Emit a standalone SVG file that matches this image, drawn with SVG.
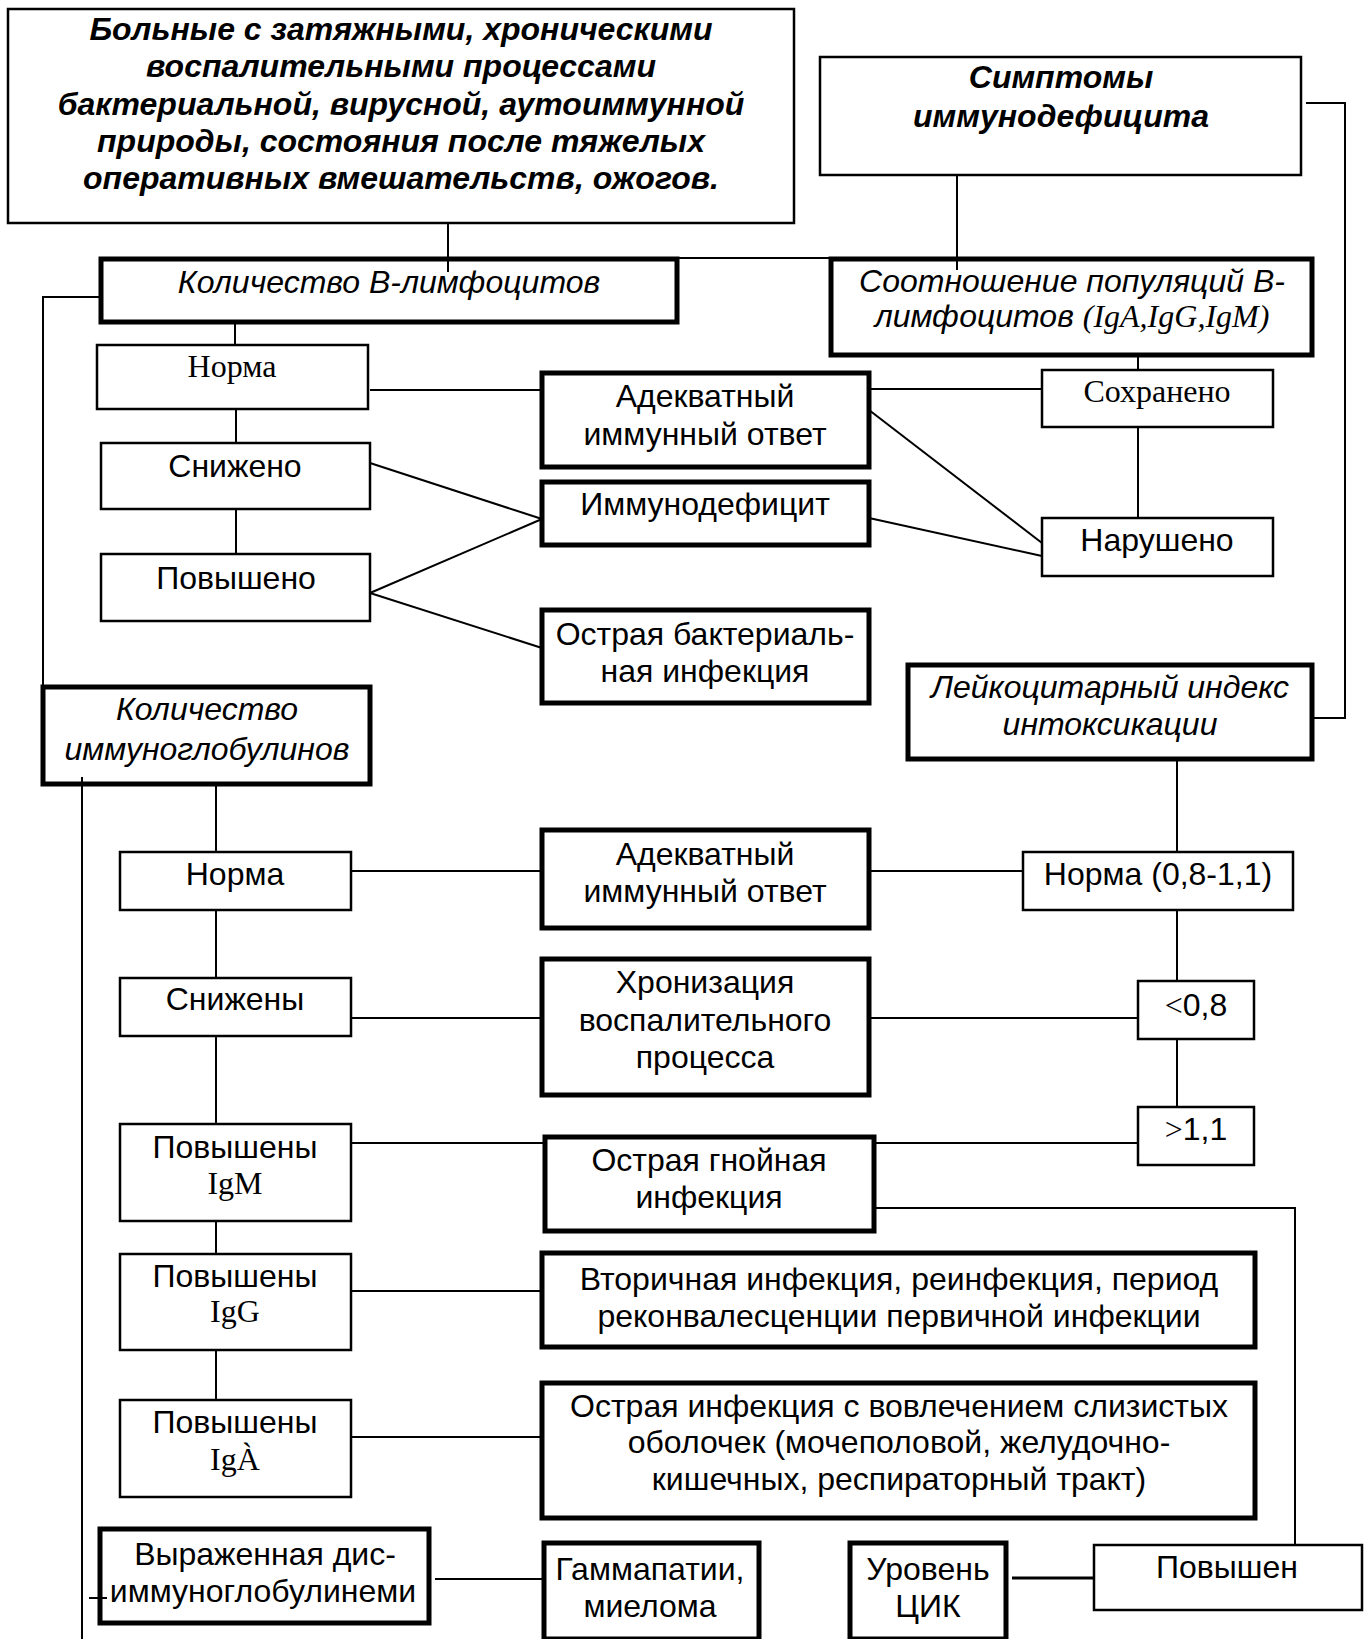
<svg xmlns="http://www.w3.org/2000/svg" width="1372" height="1639" viewBox="0 0 1372 1639">
<style>
rect{fill:#fff;stroke:#000}
.t{stroke-width:2.5}
.k{stroke-width:5}
#connectors line,#connectors polyline{stroke:#000;stroke-width:2;fill:none}
text{font-family:"Liberation Sans",Arial,sans-serif;font-size:32px;text-anchor:middle;fill:#000}
.bi{font-weight:bold;font-style:italic}
.i{font-style:italic}
.tm{font-family:"Liberation Serif","Times New Roman",serif;font-size:32px}
</style>
<rect width="1372" height="1639" style="stroke:none"/>
<g id="n-top"><rect class="t" x="8" y="9" width="786" height="214"/>
<text class="bi"><tspan x="401" y="40">Больные с затяжными, хроническими</tspan><tspan x="401" y="77">воспалительными процессами</tspan><tspan x="401" y="115">бактериальной, вирусной, аутоиммунной</tspan><tspan x="401" y="152">природы, состояния после тяжелых</tspan><tspan x="401" y="189">оперативных вмешательств, ожогов.</tspan></text></g>
<g id="n-sympt"><rect class="t" x="820" y="57" width="481" height="118"/>
<text class="bi"><tspan x="1061" y="88">Симптомы</tspan><tspan x="1061" y="127">иммунодефицита</tspan></text></g>
<g id="n-bcount"><rect class="k" x="101" y="259" width="576" height="63"/>
<text class="i" x="389" y="293">Количество В-лимфоцитов</text></g>
<g id="n-ratio"><rect class="k" x="831" y="259" width="481" height="96"/>
<text class="i"><tspan x="1072" y="292">Соотношение популяций В-</tspan><tspan x="1072" y="327">лимфоцитов <tspan class="tm">(IgA,IgG,IgM)</tspan></tspan></text></g>
<g id="n-norm1"><rect class="t" x="97" y="345" width="271" height="64"/>
<text class="tm" x="232" y="377">Норма</text></g>
<g id="n-low1"><rect class="t" x="101" y="443" width="269" height="66"/>
<text x="235" y="477">Снижено</text></g>
<g id="n-high1"><rect class="t" x="101" y="554" width="269" height="67"/>
<text x="236" y="589">Повышено</text></g>
<g id="n-adeq1"><rect class="k" x="542" y="373" width="327" height="94"/>
<text><tspan x="705" y="407">Адекватный</tspan><tspan x="705" y="445">иммунный ответ</tspan></text></g>
<g id="n-immdef"><rect class="k" x="542" y="482" width="327" height="63"/>
<text x="705" y="515">Иммунодефицит</text></g>
<g id="n-acutebact"><rect class="k" x="542" y="610" width="327" height="93"/>
<text><tspan x="705" y="645">Острая бактериаль-</tspan><tspan x="705" y="682">ная инфекция</tspan></text></g>
<g id="n-kept"><rect class="t" x="1042" y="370" width="231" height="57"/>
<text class="tm" x="1157" y="402">Сохранено</text></g>
<g id="n-broken"><rect class="t" x="1042" y="518" width="231" height="58"/>
<text x="1157" y="551">Нарушено</text></g>
<g id="n-leuko"><rect class="k" x="908" y="665" width="404" height="94"/>
<text class="i"><tspan x="1110" y="698">Лейкоцитарный индекс</tspan><tspan x="1110" y="735">интоксикации</tspan></text></g>
<g id="n-igcount"><rect class="k" x="43" y="687" width="327" height="97"/>
<text class="i"><tspan x="207" y="720">Количество</tspan><tspan x="207" y="760">иммуноглобулинов</tspan></text></g>
<g id="n-norm2"><rect class="t" x="120" y="852" width="231" height="58"/>
<text x="235" y="885">Норма</text></g>
<g id="n-low2"><rect class="t" x="120" y="978" width="231" height="58"/>
<text x="235" y="1010">Снижены</text></g>
<g id="n-igm"><rect class="t" x="120" y="1124" width="231" height="97"/>
<text><tspan x="235" y="1158">Повышены</tspan><tspan class="tm" x="235" y="1194">IgM</tspan></text></g>
<g id="n-igg"><rect class="t" x="120" y="1254" width="231" height="96"/>
<text><tspan x="235" y="1287">Повышены</tspan><tspan class="tm" x="235" y="1322">IgG</tspan></text></g>
<g id="n-iga"><rect class="t" x="120" y="1400" width="231" height="97"/>
<text><tspan x="235" y="1433">Повышены</tspan><tspan class="tm" x="235" y="1470">IgÀ</tspan></text></g>
<g id="n-adeq2"><rect class="k" x="542" y="830" width="327" height="98"/>
<text><tspan x="705" y="865">Адекватный</tspan><tspan x="705" y="902">иммунный ответ</tspan></text></g>
<g id="n-chron"><rect class="k" x="542" y="959" width="327" height="136"/>
<text><tspan x="705" y="993">Хронизация</tspan><tspan x="705" y="1031">воспалительного</tspan><tspan x="705" y="1068">процесса</tspan></text></g>
<g id="n-pur"><rect class="k" x="545" y="1137" width="329" height="94"/>
<text><tspan x="709" y="1171">Острая гнойная</tspan><tspan x="709" y="1208">инфекция</tspan></text></g>
<g id="n-sec"><rect class="k" x="542" y="1253" width="713" height="94"/>
<text><tspan x="899" y="1290">Вторичная инфекция, реинфекция, период</tspan><tspan x="899" y="1327">реконвалесценции первичной инфекции</tspan></text></g>
<g id="n-mucosa"><rect class="k" x="542" y="1383" width="713" height="135"/>
<text><tspan x="899" y="1417">Острая инфекция с вовлечением слизистых</tspan><tspan x="899" y="1453">оболочек (мочеполовой, желудочно-</tspan><tspan x="899" y="1490">кишечных, респираторный тракт)</tspan></text></g>
<g id="n-norm3"><rect class="t" x="1023" y="852" width="270" height="58"/>
<text x="1158" y="885">Норма (0,8-1,1)</text></g>
<g id="n-lt"><rect class="t" x="1138" y="981" width="116" height="58"/>
<text x="1196" y="1016"><tspan class="tm">&lt;</tspan>0,8</text></g>
<g id="n-gt"><rect class="t" x="1138" y="1107" width="116" height="58"/>
<text x="1196" y="1140"><tspan class="tm">&gt;</tspan>1,1</text></g>
<g id="n-dys"><rect class="k" x="100" y="1529" width="329" height="94"/>
<text><tspan x="265" y="1565">Выраженная дис-</tspan><tspan x="263" y="1602">иммуноглобулинеми</tspan></text></g>
<g id="n-gamma"><rect class="k" x="544" y="1543" width="215" height="96"/>
<text><tspan x="650" y="1580">Гаммапатии,</tspan><tspan x="650" y="1617">миелома</tspan></text></g>
<g id="n-cic"><rect class="k" x="850" y="1543" width="156" height="96"/>
<text><tspan x="928" y="1580">Уровень</tspan><tspan x="928" y="1617">ЦИК</tspan></text></g>
<g id="n-raised"><rect class="t" x="1094" y="1545" width="268" height="65"/>
<text x="1227" y="1578">Повышен</text></g>
<g id="connectors">
<line x1="448" y1="223" x2="448" y2="272"/>
<line x1="677" y1="258" x2="831" y2="258"/>
<line x1="957" y1="175" x2="957" y2="270"/>
<polyline points="1306,103 1345,103 1345,718 1312,718"/>
<polyline points="99,297 43,297 43,685"/>
<line x1="235" y1="322" x2="235" y2="345"/>
<line x1="236" y1="409" x2="236" y2="443"/>
<line x1="236" y1="509" x2="236" y2="554"/>
<line x1="370" y1="390" x2="542" y2="390"/>
<line x1="370" y1="463" x2="542" y2="519"/>
<line x1="370" y1="593" x2="542" y2="519"/>
<line x1="370" y1="593" x2="542" y2="648"/>
<line x1="1138" y1="355" x2="1138" y2="370"/>
<line x1="1138" y1="427" x2="1138" y2="518"/>
<line x1="869" y1="389" x2="1042" y2="389"/>
<line x1="869" y1="410" x2="1042" y2="543"/>
<line x1="869" y1="518" x2="1042" y2="556"/>
<line x1="82" y1="777" x2="82" y2="1639"/>
<line x1="216" y1="784" x2="216" y2="852"/>
<line x1="216" y1="910" x2="216" y2="978"/>
<line x1="216" y1="1036" x2="216" y2="1124"/>
<line x1="216" y1="1221" x2="216" y2="1254"/>
<line x1="216" y1="1350" x2="216" y2="1400"/>
<line x1="351" y1="871" x2="542" y2="871"/>
<line x1="351" y1="1018" x2="542" y2="1018"/>
<line x1="351" y1="1143" x2="545" y2="1143"/>
<line x1="874" y1="1143" x2="1138" y2="1143"/>
<line x1="351" y1="1291" x2="542" y2="1291"/>
<line x1="351" y1="1437" x2="542" y2="1437"/>
<line x1="869" y1="871" x2="1023" y2="871"/>
<line x1="869" y1="1018" x2="1138" y2="1018"/>
<line x1="1177" y1="759" x2="1177" y2="852"/>
<line x1="1177" y1="910" x2="1177" y2="981"/>
<line x1="1177" y1="1039" x2="1177" y2="1107"/>
<polyline points="874,1208 1295,1208 1295,1545"/>
<line x1="89" y1="1598" x2="107" y2="1598"/>
<line x1="435" y1="1579" x2="544" y2="1579"/>
<line x1="1012" y1="1578" x2="1094" y2="1578" style="stroke-width:3"/>
</g>
</svg>
